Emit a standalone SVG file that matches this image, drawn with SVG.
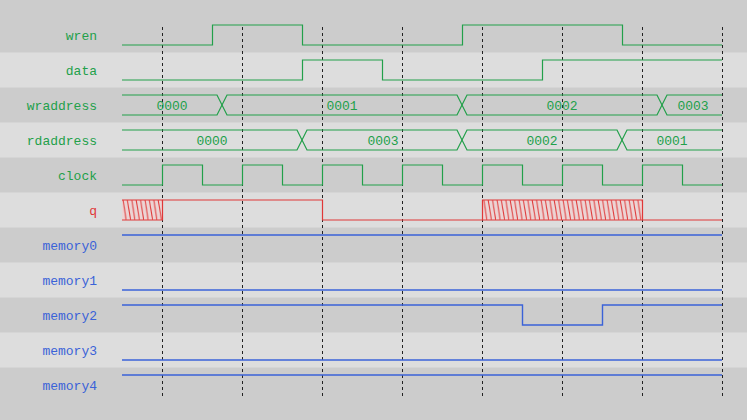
<svg xmlns="http://www.w3.org/2000/svg" width="747" height="420" viewBox="0 0 747 420">
<style>
.bgd{fill:#cccccc}
.bgl{fill:#dddddd}
text{font-family:'Liberation Mono','Courier New','DejaVu Sans Mono',monospace;font-size:13px}
.lbl{text-anchor:end}
.val{text-anchor:middle;fill:#22a04a}
.g{fill:none;stroke:#22a04a;stroke-width:1.2}
.r{fill:none;stroke:#e03838;stroke-width:1.2}
.b{fill:none;stroke:#3a62d8;stroke-width:1.4}
.tg{fill:#22a04a}.tr{fill:#e03838}.tb{fill:#3a62d8}
.grid{stroke:#222;stroke-width:1;stroke-dasharray:3,3}
</style>
<defs>
<pattern id="hatch" patternUnits="userSpaceOnUse" x="122" y="200" width="4.4" height="20">
<rect width="4.4" height="20" fill="#ecd4d4"/>
<line x1="1" y1="0" x2="4.2" y2="20" stroke="#e03838" stroke-width="1"/>
</pattern>
</defs>
<rect class="bgd" x="0" y="0" width="747" height="420"/>
<rect class="bgl" x="0" y="52.5" width="747" height="35"/>
<rect class="bgl" x="0" y="122.5" width="747" height="35"/>
<rect class="bgl" x="0" y="192.5" width="747" height="35"/>
<rect class="bgl" x="0" y="262.5" width="747" height="35"/>
<rect class="bgl" x="0" y="332.5" width="747" height="35"/>

<g id="grid">
<line class="grid" x1="162.5" y1="27" x2="162.5" y2="396"/>
<line class="grid" x1="242.5" y1="27" x2="242.5" y2="396"/>
<line class="grid" x1="322.5" y1="27" x2="322.5" y2="396"/>
<line class="grid" x1="402.5" y1="27" x2="402.5" y2="396"/>
<line class="grid" x1="482.5" y1="27" x2="482.5" y2="396"/>
<line class="grid" x1="562.5" y1="27" x2="562.5" y2="396"/>
<line class="grid" x1="642.5" y1="27" x2="642.5" y2="396"/>
<line class="grid" x1="722.5" y1="27" x2="722.5" y2="396"/>
</g>

<g id="wren">
<text class="lbl tg" x="97" y="40" font-family="Liberation Mono, monospace">wren</text>
<polyline class="g" points="122,45 212.5,45 212.5,25 302.5,25 302.5,45 462.5,45 462.5,25 622.5,25 622.5,45 722,45"/>
</g>
<g id="data">
<text class="lbl tg" x="97" y="75">data</text>
<polyline class="g" points="122,80 302.5,80 302.5,60 382.5,60 382.5,80 542.5,80 542.5,60 722,60"/>
</g>
<g id="wraddress">
<text class="lbl tg" x="97" y="110">wraddress</text>
<polyline class="g" points="122,95 217,95 227,115 457,115 467,95 657,95 667,115 722,115"/>
<polyline class="g" points="122,115 217,115 227,95 457,95 467,115 657,115 667,95 722,95"/>
<text class="val" x="172" y="110">0000</text>
<text class="val" x="342" y="110">0001</text>
<text class="val" x="562" y="110">0002</text>
<text class="val" x="693" y="110">0003</text>
</g>
<g id="rdaddress">
<text class="lbl tg" x="97" y="145">rdaddress</text>
<polyline class="g" points="122,130 297,130 307,150 457,150 467,130 617,130 627,150 722,150"/>
<polyline class="g" points="122,150 297,150 307,130 457,130 467,150 617,150 627,130 722,130"/>
<text class="val" x="212" y="145">0000</text>
<text class="val" x="383" y="145">0003</text>
<text class="val" x="542" y="145">0002</text>
<text class="val" x="672" y="145">0001</text>
</g>
<g id="clock">
<text class="lbl tg" x="97" y="180">clock</text>
<polyline class="g" points="122,185 162.5,185 162.5,165 202.5,165 202.5,185 242.5,185 242.5,165 282.5,165 282.5,185 322.5,185 322.5,165 362.5,165 362.5,185 402.5,185 402.5,165 442.5,165 442.5,185 482.5,185 482.5,165 522.5,165 522.5,185 562.5,185 562.5,165 602.5,165 602.5,185 642.5,185 642.5,165 682.5,165 682.5,185 722,185"/>
</g>
<g id="q">
<text class="lbl tr" x="97" y="215">q</text>
<rect x="122" y="200" width="40.5" height="20" fill="url(#hatch)"/>
<rect x="482.5" y="200" width="160" height="20" fill="url(#hatch)"/>
<polyline class="r" points="122,220 162.5,220 162.5,200 122,200"/>
<polyline class="r" points="162.5,200 322.5,200 322.5,220 482.5,220 482.5,200 642.5,200 642.5,220 722,220"/>
<line class="r" x1="482.5" y1="220" x2="642.5" y2="220"/>
</g>
<g id="memory0">
<text class="lbl tb" x="97" y="250">memory0</text>
<polyline class="b" points="122,235 722,235"/>
</g>
<g id="memory1">
<text class="lbl tb" x="97" y="285">memory1</text>
<polyline class="b" points="122,290 722,290"/>
</g>
<g id="memory2">
<text class="lbl tb" x="97" y="320">memory2</text>
<polyline class="b" points="122,305 522.5,305 522.5,325 602.5,325 602.5,305 722,305"/>
</g>
<g id="memory3">
<text class="lbl tb" x="97" y="355">memory3</text>
<polyline class="b" points="122,360 722,360"/>
</g>
<g id="memory4">
<text class="lbl tb" x="97" y="390">memory4</text>
<polyline class="b" points="122,375 722,375"/>
</g>
</svg>
